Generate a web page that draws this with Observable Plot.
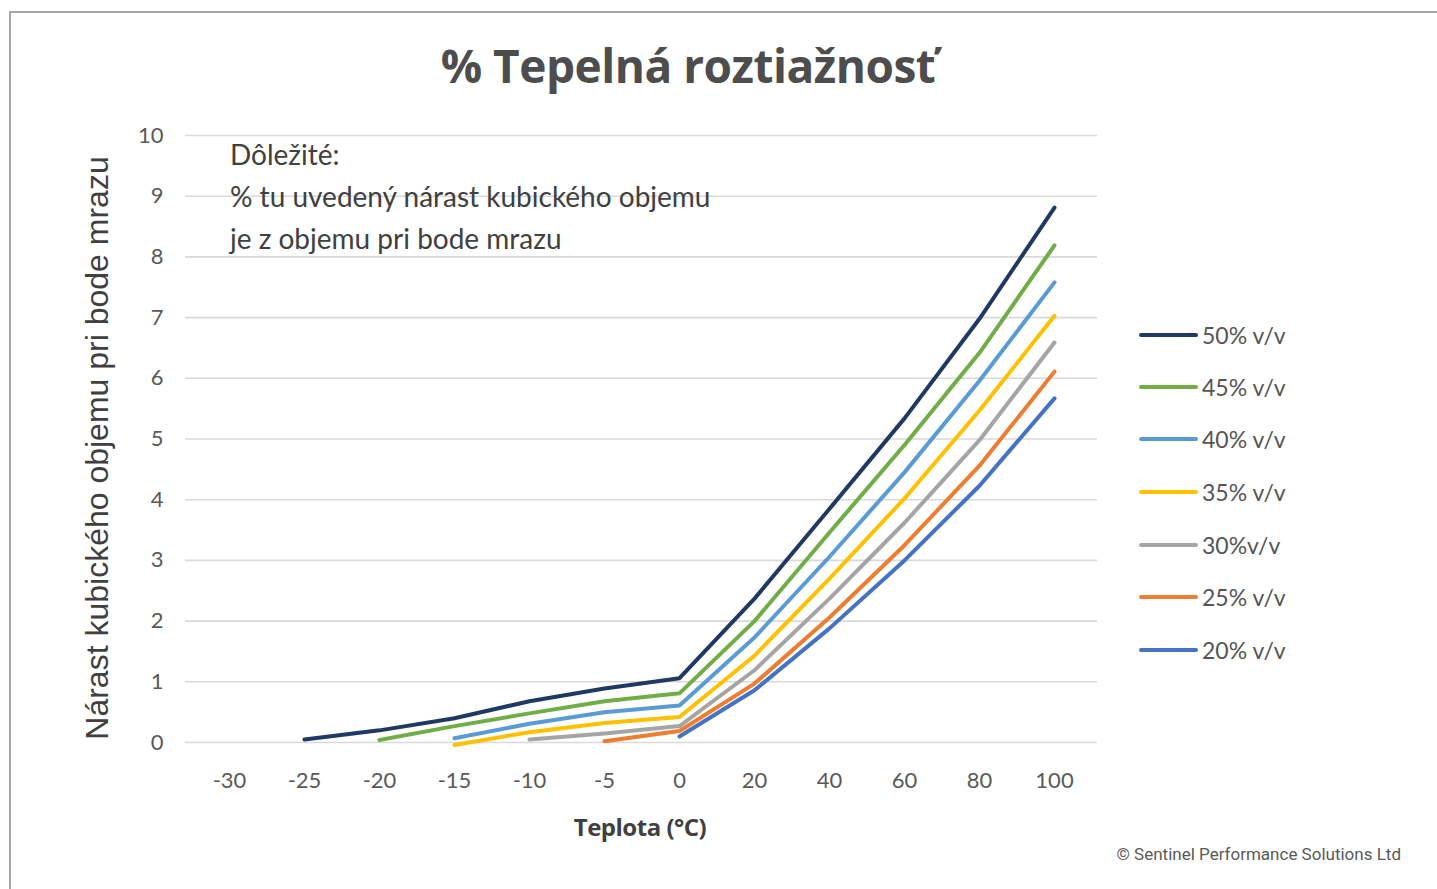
<!DOCTYPE html>
<html>
<head>
<meta charset="utf-8">
<script src="https://cdn.jsdelivr.net/npm/d3@7"></script>
<script src="https://cdn.jsdelivr.net/npm/@observablehq/plot@0.6"></script>
<style>
  html, body { margin: 0; padding: 0; background: #fff; }
  #wrap { position: relative; width: 1437px; height: 889px; overflow: hidden; background:#fff; }
  #frame { position: absolute; left: 9px; top: 11px; width: 1440px; height: 900px;
           border-top: 2px solid #a6a6a6; border-left: 2px solid #a6a6a6; }
  #title { position: absolute; left: 0; width: 1376px; top: 34px; text-align: center;
           font-family: "Open Sans", sans-serif; font-weight: 700; font-size: 46px; color: #4d4d4d;
           letter-spacing: -0.5px; }
  #note { position: absolute; left: 230px; top: 133px; font-family: Lato, sans-serif; font-size: 28px;
          line-height: 42px; color: #404040; }
  #ylabel { position: absolute; left: 97px; top: 448px; transform: translate(-50%, -50%) rotate(-90deg);
            white-space: nowrap; font-family: "Liberation Sans", Arial, sans-serif; font-size: 32px; color: #404040; }
  #xlabel { position: absolute; left: 640px; top: 826px; transform: translate(-50%, -50%);
            font-family: "Open Sans", sans-serif; font-weight: 700; font-size: 24px; color: #404040; letter-spacing:-0.5px; }
  #caption { position: absolute; right: 36px; top: 844px; font-family: Roboto, sans-serif; font-size: 17px; color: #595959; }
  .leg { position: absolute; left: 1139px; height: 30px; display: flex; align-items: center;
         font-family: Lato, sans-serif; font-size: 23px; color: #555; }
  .leg span.sw { display: inline-block; width: 59px; height: 4px; border-radius: 2px; margin-right: 4px; }
  #chart { position: absolute; left: 0; top: 0; }
</style>
</head>
<body>
<div id="wrap">
  <div id="frame"></div>
  <div id="chart"></div>
  <div id="title">% Tepelná roztiažnosť</div>
  <div id="note">Dôležité:<br>% tu uvedený nárast kubického objemu<br>je z objemu pri bode mrazu</div>
  <div id="ylabel">Nárast kubického objemu pri bode mrazu</div>
  <div id="xlabel">Teplota (°C)</div>
  <div id="caption">© Sentinel Performance Solutions Ltd</div>
  <div id="legend"></div>
</div>
<script>
// Categories on the x axis (evenly spaced categorical temperatures)
const temperatures = ["-30", "-25", "-20", "-15", "-10", "-5", "0", "20", "40", "60", "80", "100"];
const yTicks = [0, 1, 2, 3, 4, 5, 6, 7, 8, 9, 10];

const seriesNames = ["50% v/v", "45% v/v", "40% v/v", "35% v/v", "30%v/v", "25% v/v", "20% v/v"];
const seriesColors = ["#203864", "#70ad47", "#5b9bd5", "#ffc000", "#a5a5a5", "#ed7d31", "#4472c4"];

// values per temperature category (null = no value)
const v50 = [null, 0.05, 0.2, 0.4, 0.68, 0.89, 1.06, 2.37, 3.85, 5.34, 6.98, 8.81];
const v45 = [null, null, 0.04, 0.27, 0.48, 0.68, 0.81, 2.0, 3.46, 4.9, 6.42, 8.19];
const v40 = [null, null, null, 0.07, 0.31, 0.5, 0.61, 1.73, 3.06, 4.45, 5.96, 7.58];
const v35 = [null, null, null, -0.04, 0.17, 0.32, 0.42, 1.43, 2.7, 4.02, 5.47, 7.03];
const v30 = [null, null, null, null, 0.05, 0.15, 0.27, 1.19, 2.37, 3.62, 4.98, 6.59];
const v25 = [null, null, null, null, null, 0.02, 0.19, 0.97, 2.06, 3.25, 4.56, 6.11];
const v20 = [null, null, null, null, null, null, 0.1, 0.86, 1.88, 3.0, 4.23, 5.67];

const seriesValues = [v50, v45, v40, v35, v30, v25, v20];

const rows = [];
seriesNames.forEach((name, i) => {
  seriesValues[i].forEach((v, j) => {
    if (v !== null) rows.push({series: name, t: temperatures[j], v});
  });
});

const chart = Plot.plot({
  width: 1437,
  height: 889,
  marginTop: 135,
  marginBottom: 147,
  marginLeft: 185,
  marginRight: 340,
  style: { fontFamily: "Lato, sans-serif", fontSize: "22px", color: "#595959", background: "transparent" },
  x: { type: "point", domain: temperatures, range: [225, 1057], padding: 0, label: null },
  y: { domain: [0, 10], label: null },
  color: { domain: seriesNames, range: seriesColors },
  marks: [
    Plot.ruleY(yTicks, { stroke: "#d9d9d9", strokeWidth: 1.6 }),
    Plot.axisY({ ticks: yTicks, tickSize: 0, tickPadding: 22, label: null, fill: "#595959" }),
    Plot.axisX({ tickSize: 0, tickPadding: 30, label: null, fill: "#595959" }),
    Plot.line(rows, { x: "t", y: "v", z: "series", stroke: "series", strokeWidth: 4, strokeLinejoin: "round", strokeLinecap: "round" })
  ]
});
document.getElementById("chart").appendChild(chart);

const legend = document.getElementById("legend");
const legendTops = [320, 372, 424, 477, 530, 582, 635];
seriesNames.forEach((name, i) => {
  const d = document.createElement("div");
  d.className = "leg";
  d.style.top = legendTops[i] + "px";
  d.innerHTML = `<span class="sw" style="background:${seriesColors[i]}"></span>${name}`;
  legend.appendChild(d);
});
</script>
</body>
</html>
